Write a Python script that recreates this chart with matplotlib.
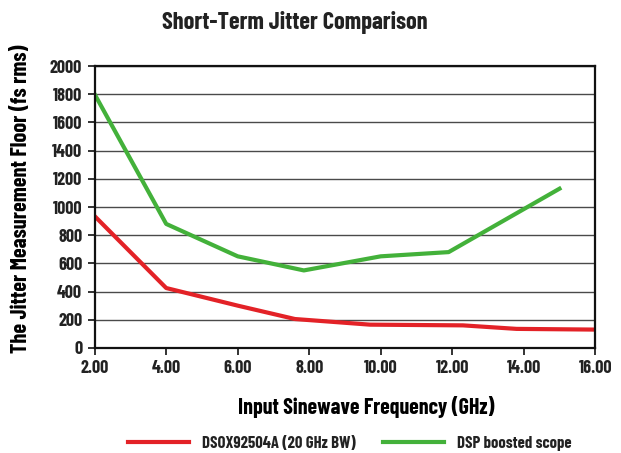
import matplotlib
matplotlib.use("Agg")
from matplotlib import pyplot as plt

plt.rcParams["font.family"] = ["Barlow Condensed", "DejaVu Sans"]
plt.rcParams["font.weight"] = "bold"
plt.rcParams["text.color"] = "#222222"

# Data
red_freq = [2.0, 4.0, 6.0, 7.6, 9.7, 12.3, 13.8, 16.0]
red_jitter = [935, 425, 300, 205, 165, 160, 135, 130]
red_label = "DSOX92504A (20 GHz BW)"

green_freq = [2.0, 4.0, 6.0, 7.85, 10.0, 11.9, 15.0]
green_jitter = [1800, 880, 650, 550, 650, 680, 1130]
green_label = "DSP boosted scope"

x_ticks = [2, 4, 6, 8, 10, 12, 14, 16]
y_ticks = list(range(0, 2001, 200))

fig = plt.figure(figsize=(6.21, 4.53), dpi=100)
ax = fig.add_axes([0.1525, 0.232, 0.806, 0.622])

ax.plot(red_freq, red_jitter, color="#e32227", lw=3.0, label=red_label, solid_joinstyle="round")
ax.plot(green_freq, green_jitter, color="#43b13a", lw=3.0, label=green_label, solid_joinstyle="round")

ax.set_xlim(2, 16)
ax.set_ylim(0, 2000)
ax.set_xticks(x_ticks)
ax.set_xticklabels([f"{t:.2f}" for t in x_ticks])
ax.set_yticks(y_ticks)
ax.yaxis.grid(True, color="#4a4a4a", lw=1.0)
ax.set_axisbelow(True)
for s in ax.spines.values():
    s.set_linewidth(1.6)
    s.set_color("#111111")
ax.tick_params(axis="both", labelsize=13, length=5, width=1.2, color="#111111",
               labelcolor="#222222", pad=4)
for lab in ax.get_xticklabels() + ax.get_yticklabels():
    lab.set_fontweight("bold")

ax.set_xlabel("Input Sinewave Frequency (GHz)", fontsize=15.8, fontweight="bold")
ax.xaxis.set_label_coords(0.542, -0.17)
ax.set_ylabel("The Jitter Measurement Floor (fs rms)", fontsize=16, fontweight="bold")
ax.yaxis.set_label_coords(-0.127, 0.528)
fig.text(0.475, 0.975, "Short-Term Jitter Comparison", fontsize=17.5, fontweight="bold",
         ha="center", va="top")

leg = fig.legend(loc="center", bbox_to_anchor=(0.563, 0.022), ncol=2, frameon=False,
                 fontsize=12, handlelength=3.66, handletextpad=0.78, columnspacing=1.6)
for t in leg.get_texts():
    t.set_fontweight("bold")

fig.savefig("out.png", dpi=100)
